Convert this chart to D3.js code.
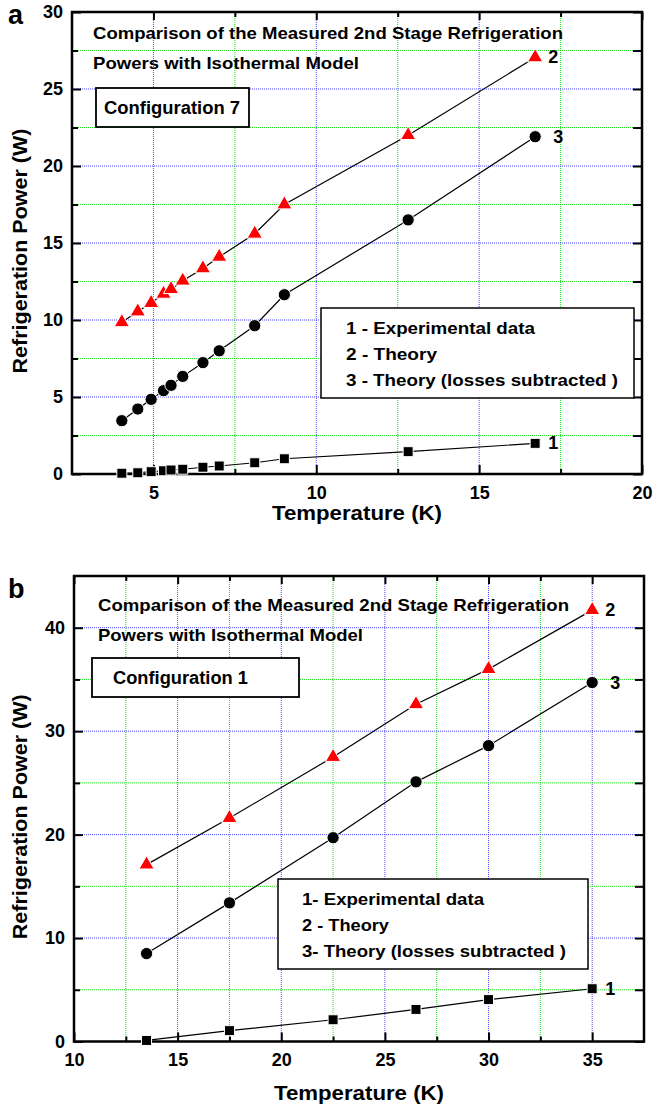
<!DOCTYPE html>
<html>
<head>
<meta charset="utf-8">
<script src="https://cdn.jsdelivr.net/npm/d3@7"></script>
<style>
  body { margin: 0; background: #fff; }
  text { font-family: "Liberation Sans", Arial, Helvetica, sans-serif; font-weight: bold; fill: #000; }
</style>
</head>
<body>
<div class="chart"></div>
<script>
var svgWidth = 656;
var svgHeight = 1108;

// panel a - Configuration 7
var tempA = [4.03, 4.52, 4.93, 5.31, 5.54, 5.9, 6.52, 7.02, 8.11, 9.02, 12.82, 16.72];
var expA = [0.05, 0.08, 0.15, 0.21, 0.26, 0.31, 0.44, 0.52, 0.73, 0.99, 1.45, 1.99];
var theoryA = [9.85, 10.55, 11.1, 11.7, 12.0, 12.55, 13.35, 14.1, 15.6, 17.5, 22.0, 27.05];
var lossA = [3.46, 4.22, 4.85, 5.41, 5.76, 6.34, 7.23, 8.0, 9.63, 11.64, 16.5, 21.9];
var xTicksA = [5, 10, 15, 20];
var xMinorA = [7.5, 12.5, 17.5];
var yTicksA = [0, 5, 10, 15, 20, 25, 30];
var yMinorA = [2.5, 7.5, 12.5, 17.5, 22.5, 27.5];

// panel b - Configuration 1
var tempB = [13.5, 17.5, 22.5, 26.5, 30, 35];
var expB = [0.1, 1.05, 2.1, 3.1, 4.05, 5.1];
var theoryB = [17.1, 21.6, 27.5, 32.6, 36.0, 41.7];
var lossB = [8.5, 13.4, 19.7, 25.1, 28.6, 34.7];
var xTicksB = [10, 15, 20, 25, 30, 35];
var xMinorB = [12.5, 17.5, 22.5, 27.5, 32.5];
var yTicksB = [0, 10, 20, 30, 40];
var yMinorB = [5, 15, 25, 35];

var titleLines = ["Comparison of the Measured 2nd Stage Refrigeration", "Powers with Isothermal Model"];
var legendA = ["1 - Experimental data", "2 - Theory", "3 - Theory (losses subtracted )"];
var legendB = ["1- Experimental data", "2 - Theory", "3- Theory (losses subtracted )"];

var svg = d3.select(".chart")
  .append("svg")
  .attr("width", svgWidth)
  .attr("height", svgHeight);

// text helper, stretched to the measured width when len is given
function addText(g, str, x, y, size, len) {
  var t = g.append("text")
    .attr("x", x)
    .attr("y", y)
    .attr("font-size", size)
    .text(str);
  if (len) t.attr("textLength", len).attr("lengthAdjust", "spacingAndGlyphs");
  return t;
}

function drawPanel(p) {
  var g = svg.append("g");

  var x = d3.scaleLinear().domain(p.xDomain).range([p.left, p.right]);
  var y = d3.scaleLinear().domain(p.yDomain).range([p.bottom, p.top]);

  // dotted grid: blue on labelled values, green in between
  function vGrid(vals, color) {
    g.selectAll(null).data(vals.filter(v => v > p.xDomain[0] && v < p.xDomain[1]))
      .enter().append("line")
      .attr("x1", d => x(d)).attr("x2", d => x(d))
      .attr("y1", p.top).attr("y2", p.bottom)
      .attr("stroke", color).attr("stroke-width", 1)
      .attr("stroke-dasharray", "1,1");
  }
  function hGrid(vals, color) {
    g.selectAll(null).data(vals.filter(v => v > p.yDomain[0] && v < p.yDomain[1]))
      .enter().append("line")
      .attr("y1", d => y(d)).attr("y2", d => y(d))
      .attr("x1", p.left).attr("x2", p.right)
      .attr("stroke", color).attr("stroke-width", 1)
      .attr("stroke-dasharray", "1,1");
  }
  vGrid(p.xTicks, "#4848ff");
  vGrid(p.xMinor, "#20e020");
  hGrid(p.yTicks, "#4848ff");
  hGrid(p.yMinor, "#20e020");

  // inward ticks on all four sides
  function tickAxis(axis, tr) {
    var a = g.append("g").attr("transform", tr).call(axis);
    a.select(".domain").remove();
    a.selectAll("line").attr("stroke-width", 2);
    a.selectAll("text").attr("font-size", 18).attr("font-family", null);
    return a;
  }
  tickAxis(d3.axisBottom(x).tickValues(p.xTicks).tickSize(-9).tickPadding(12), `translate(0,${p.bottom})`);
  tickAxis(d3.axisBottom(x).tickValues(p.xMinor).tickSize(-5).tickFormat(""), `translate(0,${p.bottom})`);
  tickAxis(d3.axisTop(x).tickValues(p.xTicks).tickSize(-8).tickFormat(""), `translate(0,${p.top})`);
  tickAxis(d3.axisTop(x).tickValues(p.xMinor).tickSize(-5).tickFormat(""), `translate(0,${p.top})`);
  tickAxis(d3.axisLeft(y).tickValues(p.yTicks).tickSize(-9).tickPadding(9), `translate(${p.left},0)`);
  tickAxis(d3.axisLeft(y).tickValues(p.yMinor).tickSize(-6).tickFormat(""), `translate(${p.left},0)`);
  tickAxis(d3.axisRight(y).tickValues(p.yTicks.concat(p.yMinor)).tickSize(-9).tickFormat(""), `translate(${p.right},0)`);

  // frame
  g.append("rect")
    .attr("x", p.left).attr("y", p.top)
    .attr("width", p.right - p.left).attr("height", p.bottom - p.top)
    .attr("fill", "none").attr("stroke", "#000").attr("stroke-width", 2.5);

  // header text and boxes
  addText(g, titleLines[0], p.titleX, p.titleY, 17, p.titleLen[0]);
  addText(g, titleLines[1], p.titleX, p.titleY + 30, 17, p.titleLen[1]);

  g.append("rect")
    .attr("x", p.cfgBox[0]).attr("y", p.cfgBox[1])
    .attr("width", p.cfgBox[2]).attr("height", p.cfgBox[3])
    .attr("fill", "#fff").attr("stroke", "#000").attr("stroke-width", 1.8);
  addText(g, p.cfgText, p.cfgTextX, p.cfgBox[1] + p.cfgBox[3] / 2 + 6.5, 18, p.cfgLen);

  g.append("rect")
    .attr("x", p.legBox[0]).attr("y", p.legBox[1])
    .attr("width", p.legBox[2]).attr("height", p.legBox[3])
    .attr("fill", "#fff").attr("stroke", "#000").attr("stroke-width", 1.5);
  p.legend.forEach(function(s, i) {
    addText(g, s, p.legTextX, p.legBox[1] + 26 + i * 26, 17, p.legLen[i]);
  });

  // series: line + markers
  var series = [
    { vals: p.exp, shape: "square", color: "#000", label: "1", dx: 13 },
    { vals: p.theory, shape: "triangle", color: "#ff0000", label: "2", dx: 13 },
    { vals: p.loss, shape: "circle", color: "#000", label: "3", dx: 18 }
  ];
  var line = d3.line().x(d => x(d[0])).y(d => y(d[1]));

  series.forEach(function(s) {
    var pts = d3.zip(p.temps, s.vals);
    g.append("path")
      .attr("d", line(pts))
      .attr("fill", "none").attr("stroke", "#000").attr("stroke-width", 1.2);

    var sym = s.shape === "square" ? d3.symbol(d3.symbolSquare, 100)
      : s.shape === "triangle" ? d3.symbol(d3.symbolTriangle, 100)
      : d3.symbol(d3.symbolCircle, 118);
    g.selectAll(null).data(pts).enter().append("path")
      .attr("d", sym)
      .attr("transform", d => `translate(${x(d[0])},${y(d[1])})`)
      .attr("fill", s.color)
      .attr("stroke", "#fff").attr("stroke-width", 1);

    var last = pts[pts.length - 1];
    addText(g, s.label, x(last[0]) + s.dx, y(last[1]) + 6, 18);
  });

  // axis titles and panel letter
  addText(g, "Temperature (K)", (p.left + p.right) / 2, p.xTitleY, 20, 170)
    .attr("text-anchor", "middle");
  g.append("text")
    .attr("transform", `translate(27,${(p.top + p.bottom) / 2 + 8}) rotate(-90)`)
    .attr("text-anchor", "middle")
    .attr("font-size", 20)
    .attr("textLength", 245).attr("lengthAdjust", "spacingAndGlyphs")
    .text("Refrigeration Power (W)");
  addText(g, p.letter, 8, p.letterY, 27);
}

drawPanel({
  letter: "a", letterY: 24,
  left: 72, right: 642, top: 12, bottom: 474,
  xDomain: [2.5, 20], yDomain: [0, 30],
  xTicks: xTicksA, xMinor: xMinorA, yTicks: yTicksA, yMinor: yMinorA,
  temps: tempA, exp: expA, theory: theoryA, loss: lossA,
  titleX: 93, titleY: 39, titleLen: [470, 266],
  cfgBox: [96, 88, 153, 39], cfgText: "Configuration 7", cfgTextX: 104, cfgLen: 136,
  legBox: [321, 308, 313, 90], legTextX: 346, legend: legendA, legLen: [189, 91, 272],
  xTitleY: 520
});

drawPanel({
  letter: "b", letterY: 598,
  left: 74, right: 644, top: 576, bottom: 1041.5,
  xDomain: [10, 37.5], yDomain: [0, 45],
  xTicks: xTicksB, xMinor: xMinorB, yTicks: yTicksB, yMinor: yMinorB,
  temps: tempB, exp: expB, theory: theoryB, loss: lossB,
  titleX: 98, titleY: 611, titleLen: [471, 265],
  cfgBox: [92, 658, 207, 39], cfgText: "Configuration 1", cfgTextX: 113, cfgLen: 135,
  legBox: [278, 879, 310, 90], legTextX: 302, legend: legendB, legLen: [182, 87, 264],
  xTitleY: 1100
});
</script>
</body>
</html>
